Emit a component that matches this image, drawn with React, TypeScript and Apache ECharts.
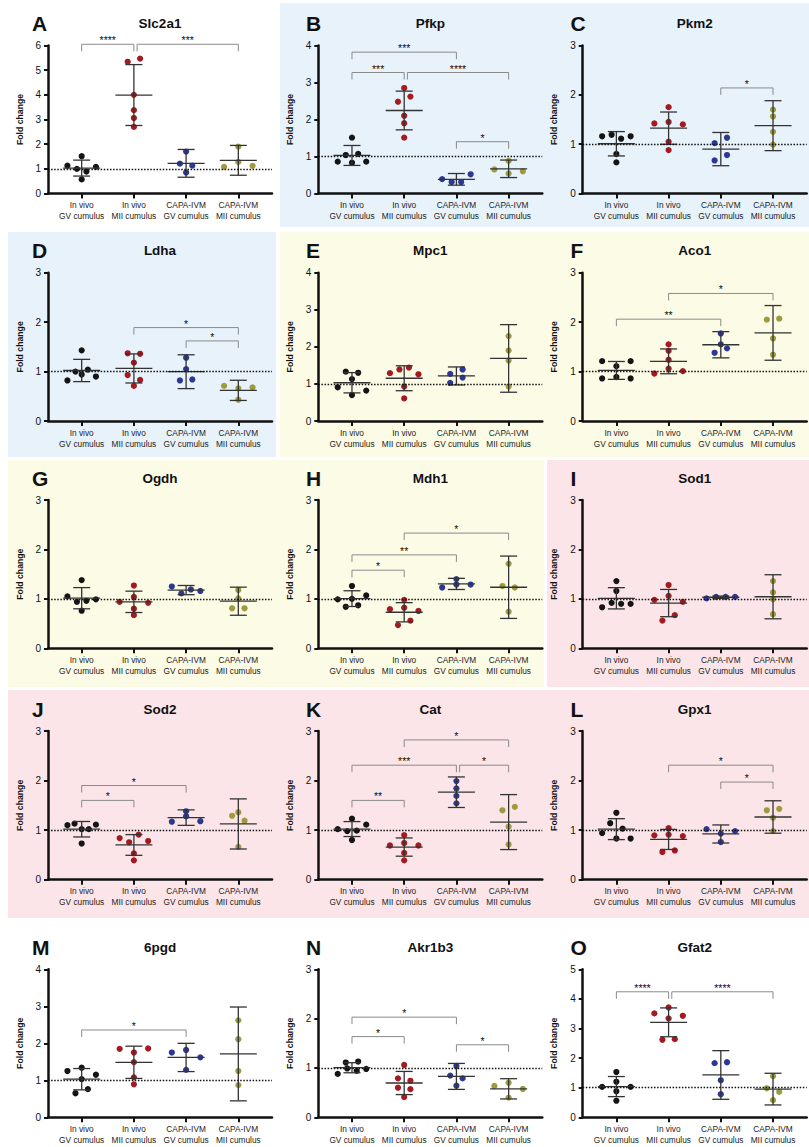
import React, { useEffect, useRef } from "react";
import * as echarts from "echarts";

const FONT = "'Liberation Sans', Arial, Helvetica, sans-serif";

// x categories and their dot colours
const groupLabels = [
  "In vivo\nGV cumulus",
  "In vivo\nMII cumulus",
  "CAPA-IVM\nGV cumulus",
  "CAPA-IVM\nMII cumulus",
];
const groupColors = ["#141414", "#a31a21", "#2c3892", "#9d9b3e"];

const genes = ["Slc2a1", "Pfkp", "Pkm2", "Ldha", "Mpc1", "Aco1", "Ogdh", "Mdh1", "Sod1", "Sod2", "Cat", "Gpx1", "6pgd", "Akr1b3", "Gfat2"];
const letters = ["A", "B", "C", "D", "E", "F", "G", "H", "I", "J", "K", "L", "M", "N", "O"];
const yMaxes = [6, 4, 3, 3, 4, 3, 3, 3, 3, 3, 3, 3, 4, 3, 5];

// fold change per sample, groups in the order of groupLabels
const slc2a1 = [[1.13, 1.0, 0.89, 1.08, 1.51, 0.57], [5.34, 5.47, 4.0, 3.38, 3.06, 2.7], [1.21, 1.13, 1.7, 0.85], [1.08, 1.28, 1.12, 1.9]];
const pfkp = [[0.86, 1.04, 0.83, 1.07, 0.86, 1.51], [2.48, 2.62, 2.85, 2.1, 1.9, 1.51], [0.39, 0.31, 0.31, 0.52], [0.65, 0.54, 0.6, 0.88]];
const pkm2 = [[1.16, 1.19, 1.11, 1.16, 0.8, 0.63], [1.42, 1.75, 1.45, 1.4, 1.05, 0.88], [1.02, 1.13, 0.67, 0.78], [1.7, 1.56, 1.25, 0.99]];
const ldha = [[1.0, 0.82, 1.43, 0.94, 1.04, 0.9], [1.37, 1.36, 1.18, 0.93, 0.71, 0.83], [1.28, 1.05, 0.82, 0.84], [0.71, 0.66, 0.68, 0.43]];
const mpc1 = [[1.33, 1.3, 1.13, 0.91, 0.7, 0.82], [1.29, 1.39, 1.44, 1.26, 0.93, 0.61], [1.27, 1.39, 1.03, 1.17], [2.29, 1.9, 1.63, 0.93]];
const aco1 = [[1.21, 1.11, 1.21, 0.86, 0.89, 0.86], [0.96, 1.55, 1.42, 1.24, 1.06, 1.01], [1.55, 1.77, 1.38, 1.47], [2.05, 2.07, 1.67, 1.34]];
const ogdh = [[1.05, 0.94, 0.96, 1.38, 0.99, 0.76], [0.94, 1.27, 1.04, 0.92, 0.8, 0.67], [1.25, 1.11, 1.19, 1.16], [1.18, 1.01, 0.81, 0.81]];
const mdh1 = [[0.99, 0.84, 1.26, 1.0, 1.07, 0.87], [0.79, 0.98, 0.82, 0.755, 0.47, 0.56], [1.4, 1.23, 1.29, 1.29], [1.71, 1.26, 1.23, 0.74]];
const sod1 = [[0.83, 0.92, 0.9, 0.9, 1.36, 1.16], [0.98, 1.28, 1.06, 0.94, 0.56, 0.67], [1.01, 1.04, 1.04, 1.04], [1.36, 1.13, 0.99, 0.69]];
const sod2 = [[1.1, 1.13, 1.02, 1.02, 1.11, 0.73], [0.84, 0.755, 0.91, 0.78, 0.53, 0.39], [1.17, 1.28, 1.38, 1.18], [1.29, 1.36, 1.19, 0.66]];
const cat = [[1.02, 1.23, 0.98, 0.99, 1.11, 0.8], [0.9, 0.69, 0.74, 0.69, 0.54, 0.39], [1.99, 1.84, 1.69, 1.54], [1.4, 1.47, 1.07, 0.71]];
const gpx1 = [[1.35, 1.14, 1.03, 0.94, 0.83, 0.83], [0.895, 1.04, 0.91, 0.88, 0.56, 0.59], [1.02, 0.93, 0.98, 0.76], [1.4, 1.43, 1.25, 0.98]];
const pgd6 = [[1.25, 1.34, 1.03, 1.15, 0.65, 0.76], [1.85, 1.75, 1.86, 1.49, 1.08, 0.89], [1.75, 1.82, 1.62, 1.28], [2.62, 2.11, 1.25, 0.87]];
const akr1b3 = [[1.11, 0.88, 1.13, 0.99, 0.94, 0.98], [1.06, 0.79, 0.74, 0.6, 0.57, 0.41], [1.04, 0.845, 0.79, 0.64], [0.635, 0.7, 0.574, 0.4]];
const gfat2 = [[1.03, 1.53, 1.2, 0.88, 1.03, 0.56], [3.51, 3.71, 3.34, 3.43, 2.62, 2.64], [1.83, 1.86, 1.25, 0.78], [0.98, 1.39, 0.86, 0.58]];

// significance brackets: [group a, group b, bracket height, stars]
type Sig = [number, number, number, string];
const slc2a1Sig: Sig[] = [[0, 1, 6.05, "****"], [1, 3, 6.05, "***"]];
const pfkpSig: Sig[] = [[0, 1, 3.27, "***"], [1, 3, 3.27, "****"], [0, 2, 3.82, "***"], [2, 3, 1.4, "*"]];
const pkm2Sig: Sig[] = [[2, 3, 2.14, "*"]];
const ldhaSig: Sig[] = [[1, 3, 1.89, "*"], [2, 3, 1.62, "*"]];
const mpc1Sig: Sig[] = [];
const aco1Sig: Sig[] = [[0, 2, 2.06, "**"], [1, 3, 2.58, "*"]];
const ogdhSig: Sig[] = [];
const mdh1Sig: Sig[] = [[0, 1, 1.58, "*"], [0, 2, 1.89, "**"], [1, 3, 2.33, "*"]];
const sod1Sig: Sig[] = [];
const sod2Sig: Sig[] = [[0, 1, 1.6, "*"], [0, 2, 1.9, "*"]];
const catSig: Sig[] = [[0, 1, 1.6, "**"], [0, 2, 2.31, "***"], [2, 3, 2.31, "*"], [1, 3, 2.82, "*"]];
const gpx1Sig: Sig[] = [[1, 3, 2.31, "*"], [2, 3, 1.97, "*"]];
const pgd6Sig: Sig[] = [[0, 2, 2.36, "*"]];
const akr1b3Sig: Sig[] = [[0, 1, 1.635, "*"], [0, 2, 2.03, "*"], [2, 3, 1.47, "*"]];
const gfat2Sig: Sig[] = [[0, 1, 4.24, "****"], [1, 3, 4.24, "****"]];

const panelValues = [slc2a1, pfkp, pkm2, ldha, mpc1, aco1, ogdh, mdh1, sod1, sod2, cat, gpx1, pgd6, akr1b3, gfat2];
const panelSigs = [slc2a1Sig, pfkpSig, pkm2Sig, ldhaSig, mpc1Sig, aco1Sig, ogdhSig, mdh1Sig, sod1Sig, sod2Sig, catSig, gpx1Sig, pgd6Sig, akr1b3Sig, gfat2Sig];

// two-sided 95% t critical values by sample size
const tCrit: Record<number, number> = { 3: 4.303, 4: 3.182, 5: 2.776, 6: 2.571 };

// page layout
const W = 809;
const H = 1147;
const colLeft = [48, 318.3, 582.7];
const letterLeft = [32, 306, 570.5];
const rowTop = [45.5, 272.7, 500, 731, 969.3];
const rowBottom = [193.5, 421, 648.3, 879.7, 1117.3];
const plotWidth = 224;
const xMin = -0.645;
const xMax = 3.645;

const BLUE = "#e7f2fb";
const YELLOW = "#fcfbe6";
const PINK = "#fbe5e8";
const panelBackgrounds = [
  { x: 280, y: 3, w: 529, h: 224, fill: BLUE },
  { x: 8, y: 232, w: 268, h: 225, fill: BLUE },
  { x: 280, y: 232, w: 529, h: 225, fill: YELLOW },
  { x: 8, y: 460, w: 536, h: 227, fill: YELLOW },
  { x: 547, y: 460, w: 262, h: 227, fill: PINK },
  { x: 8, y: 690, w: 801, h: 228, fill: PINK },
];

function meanCI(v: number[]): [number, number, number] {
  const n = v.length;
  const m = v.reduce((a, b) => a + b, 0) / n;
  const sd = Math.sqrt(v.reduce((a, b) => a + (b - m) * (b - m), 0) / (n - 1));
  const h = (tCrit[n] ?? 1.96) * sd / Math.sqrt(n);
  return [m, m - h, m + h];
}

// spreads dots of similar height into rows, in data order
function spread(values: number[], pxPerY: number, pxPerX: number): number[] {
  const order = values.map((_, i) => i).sort((a, b) => values[a] - values[b]);
  const rows: number[][] = [];
  let cur: number[] = [];
  let start = 0;
  let prev = 0;
  for (const i of order) {
    const v = values[i];
    if (cur.length && (v - prev) * pxPerY < 5.7 && (v - start) * pxPerY < 8.3) {
      cur.push(i);
    } else {
      if (cur.length) rows.push(cur);
      cur = [i];
      start = v;
    }
    prev = v;
  }
  if (cur.length) rows.push(cur);
  const off = values.map(() => 0);
  for (const r of rows) {
    r.sort((a, b) => a - b);
    const n = r.length;
    if (n < 2) continue;
    const span = n === 2 ? 12.4 : 28.5;
    r.forEach((idx, k) => {
      off[idx] = (-span / 2 + (k * span) / (n - 1)) / pxPerX;
    });
  }
  return off;
}

function buildOption() {
  const grid: any[] = [];
  const xAxis: any[] = [];
  const yAxis: any[] = [];
  const series: any[] = [];
  const elements: any[] = [];

  panelBackgrounds.forEach((b) => {
    elements.push({
      type: "rect",
      z: -10,
      silent: true,
      shape: { x: b.x, y: b.y, width: b.w, height: b.h },
      style: { fill: b.fill },
    });
  });

  const axisColor = "#111";
  const pxPerX = plotWidth / (xMax - xMin);

  panelValues.forEach((groups, i) => {
    const col = i % 3;
    const row = Math.floor(i / 3);
    const left = colLeft[col];
    const top = rowTop[row];
    const height = rowBottom[row] - rowTop[row];
    const yMax = yMaxes[i];
    const pxPerY = height / yMax;
    const sig = panelSigs[i];

    grid.push({ left, top, width: plotWidth, height });

    xAxis.push({
      gridIndex: i,
      type: "value",
      min: xMin,
      max: xMax,
      axisLine: { show: true, onZero: false, lineStyle: { color: axisColor, width: 2.5 } },
      axisTick: { show: true, customValues: [0, 1, 2, 3], length: 5, lineStyle: { color: axisColor, width: 2 } },
      axisLabel: {
        customValues: [0, 1, 2, 3],
        formatter: (v: number) => groupLabels[Math.round(v)] ?? "",
        fontSize: 8.3,
        lineHeight: 11,
        color: "#222",
        fontFamily: FONT,
        margin: 6,
      },
      splitLine: { show: false },
    });

    yAxis.push({
      gridIndex: i,
      type: "value",
      min: 0,
      max: yMax,
      interval: 1,
      axisLine: { show: true, onZero: false, lineStyle: { color: axisColor, width: 2.5 } },
      axisTick: { show: true, length: 4, lineStyle: { color: axisColor, width: 2 } },
      axisLabel: { fontSize: 10, color: "#111", fontFamily: FONT, margin: 7 },
      splitLine: { show: false },
      name: "Fold change",
      nameLocation: "middle",
      nameGap: 24,
      nameTextStyle: { fontSize: 8.7, fontWeight: "bold", color: "#111", fontFamily: FONT },
    });

    const points: any[] = [];
    groups.forEach((vals, g) => {
      const off = spread(vals, pxPerY, pxPerX);
      vals.forEach((v, k) => {
        points.push({ value: [g + off[k], v], itemStyle: { color: groupColors[g], opacity: 1 } });
      });
    });

    series.push({
      type: "scatter",
      xAxisIndex: i,
      yAxisIndex: i,
      symbolSize: 6.2,
      z: 3,
      itemStyle: { opacity: 1 },
      data: points,
      markLine: {
        silent: true,
        symbol: ["none", "none"],
        label: { show: false },
        emphasis: { disabled: true },
        lineStyle: { color: "#111", width: 1.3, type: [1.5, 1.6] },
        data: [{ yAxis: 1 }],
      },
    });

    const stats = groups.map((vals, g) => {
      const [m, lo, hi] = meanCI(vals);
      return [g, m, lo, hi];
    });

    series.push({
      type: "custom",
      xAxisIndex: i,
      yAxisIndex: i,
      clip: false,
      z: 4,
      silent: true,
      data: stats,
      renderItem: (_params: any, api: any) => {
        const x = api.value(0);
        const m = api.coord([x, api.value(1)]);
        const lo = api.coord([x, api.value(2)]);
        const hi = api.coord([x, api.value(3)]);
        const st = { stroke: "#333", lineWidth: 1.3 };
        return {
          type: "group",
          children: [
            { type: "line", shape: { x1: m[0], y1: lo[1], x2: m[0], y2: hi[1] }, style: st },
            { type: "line", shape: { x1: m[0] - 8.5, y1: lo[1], x2: m[0] + 8.5, y2: lo[1] }, style: st },
            { type: "line", shape: { x1: m[0] - 8.5, y1: hi[1], x2: m[0] + 8.5, y2: hi[1] }, style: st },
            { type: "line", shape: { x1: m[0] - 18.5, y1: m[1], x2: m[0] + 18.5, y2: m[1] }, style: st },
          ],
        };
      },
    });

    if (sig.length) {
      series.push({
        type: "custom",
        xAxisIndex: i,
        yAxisIndex: i,
        clip: false,
        z: 5,
        silent: true,
        data: sig.map((s) => [s[0], s[1], s[2]]),
        renderItem: (params: any, api: any) => {
          const [a, b, h, label] = sig[params.dataIndex];
          const shared = sig.some((o, j) => j !== params.dataIndex && o[1] === a && Math.abs(o[2] - h) < 0.05);
          const p0 = api.coord([a, h]);
          const p1 = api.coord([b, h]);
          const x0 = p0[0] + (shared ? 3.2 : 0);
          const x1 = p1[0];
          const y = p0[1];
          return {
            type: "group",
            children: [
              {
                type: "polyline",
                shape: { points: [[x0, y + 7], [x0, y], [x1, y], [x1, y + 7]] },
                style: { stroke: "#8a8a8a", lineWidth: 1, fill: "none" },
              },
              {
                type: "text",
                x: (x0 + x1) / 2,
                y: y - 4,
                style: {
                  text: label,
                  fill: "#111",
                  font: `10.5px ${FONT}`,
                  textAlign: "center",
                  textVerticalAlign: "middle",
                },
              },
            ],
          };
        },
      });
    }

    elements.push({
      type: "text",
      z: 10,
      silent: true,
      x: left + plotWidth / 2,
      y: top - 22,
      style: {
        text: genes[i],
        fill: "#111",
        font: `bold 13.5px ${FONT}`,
        textAlign: "center",
        textVerticalAlign: "middle",
      },
    });
    elements.push({
      type: "text",
      z: 10,
      silent: true,
      x: letterLeft[col],
      y: top - 22,
      style: {
        text: letters[i],
        fill: "#111",
        font: `bold 21px ${FONT}`,
        textAlign: "left",
        textVerticalAlign: "middle",
      },
    });
  });

  return {
    animation: false,
    backgroundColor: "#ffffff",
    textStyle: { fontFamily: FONT },
    grid,
    xAxis,
    yAxis,
    series,
    graphic: { elements },
  };
}

export default function App() {
  const ref = useRef<HTMLDivElement>(null);
  useEffect(() => {
    if (!ref.current) return;
    const chart = echarts.init(ref.current, undefined, { renderer: "svg", width: W, height: H });
    chart.setOption(buildOption() as any);
    return () => chart.dispose();
  }, []);
  return (
    <div
      ref={ref}
      style={{ position: "absolute", left: 0, top: 0, width: W, height: H }}
    />
  );
}
